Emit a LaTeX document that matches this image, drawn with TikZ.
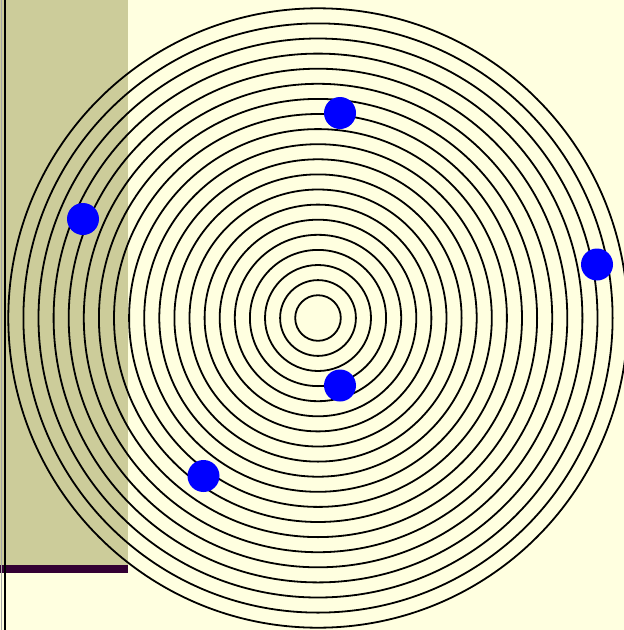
\documentclass[tikz,border=0pt]{standalone}
\usetikzlibrary{calc}
\definecolor{bgyellow}{HTML}{FFFFE0}
\definecolor{panelolive}{HTML}{CCCC9A}
\definecolor{bardark}{HTML}{330033}
\tikzset{
  ring/.style={draw=black, line width=1.8pt},
  dot/.style={circle, fill=blue, draw=none, minimum size=32pt, inner sep=0pt},
}
\begin{document}
\begin{tikzpicture}[x=1pt,y=-1pt]
\useasboundingbox (0,0) rectangle (624,630);
\fill[bgyellow] (0,0) rectangle (624,630);
% left panel
\fill[panelolive] (0,0) rectangle (128,565);
\fill[bardark] (0,565) rectangle (128,573);
% left edge lines
\draw[line width=0.8pt, gray!70] (1,0) -- (1,630);
\draw[line width=2pt, black] (4.8,0) -- (4.8,630);
% concentric rings
\begin{scope}
\clip (0,0) rectangle (624,630);
\coordinate (c) at (318,318);
\foreach \k in {0,...,19}{
  \draw[ring] (c) circle[radius={22.8+15.1*\k}];
}
\end{scope}
% blue dots
\node[dot] (d1) at (340,113) {};
\node[dot] (d2) at (83,219) {};
\node[dot] (d3) at (597,264.5) {};
\node[dot] (d4) at (340,385.5) {};
\node[dot] (d5) at (203.5,476) {};
\end{tikzpicture}
\end{document}
